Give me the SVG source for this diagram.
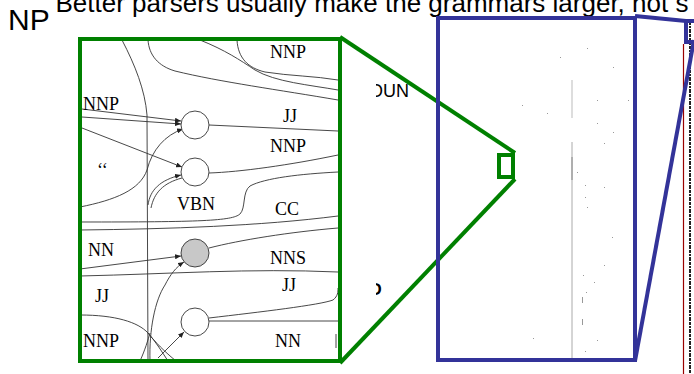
<svg xmlns="http://www.w3.org/2000/svg" width="694" height="374" viewBox="0 0 694 374">
<style>
.sans{font-family:"Liberation Sans",Arial,sans-serif;fill:#000}
.lab{font-family:"Liberation Serif","Times New Roman",serif;font-size:18px;fill:#000}
.ln{fill:none;stroke:#333;stroke-width:0.9}
.node{fill:#fff;stroke:#333;stroke-width:0.9}
.gz{fill:none;stroke:#008000;stroke-width:4}
.bz{fill:none;stroke:#333399;stroke-width:4}
</style>
<defs>
<marker id="ah" markerUnits="userSpaceOnUse" markerWidth="6" markerHeight="5" refX="6" refY="2.5" orient="auto">
<path d="M0,0 L6,2.5 L0,5 z" fill="#222"/>
</marker>
<clipPath id="gclip"><rect x="82" y="41" width="256" height="318"/></clipPath>
<clipPath id="fragclip"><rect x="376" y="0" width="318" height="374"/></clipPath>
</defs>
<rect width="694" height="374" fill="#fff"/>

<g id="title">
<text class="sans" x="55.5" y="12" font-size="26">Better parsers usually make the grammars larger, not s</text>
<text class="sans" x="8" y="30" font-size="30">NP</text>
<g clip-path="url(#fragclip)">
<text class="sans" x="369" y="96.5" font-size="18">OUN</text>
<text class="sans" x="368.5" y="295" font-size="17" font-weight="bold">O</text>
</g>
</g>

<g id="lattice" clip-path="url(#gclip)">
<g id="connectors">
<path class="ln" d="M122,40 C135,65 145,90 147,115 L148,361"/>
<path class="ln" d="M148,40 C149,55 158,66 175,71 C220,82 280,90 338,100"/>
<path class="ln" d="M200,40 C225,50 240,60 255,70 C275,82 310,85 338,90"/>
<path class="ln" d="M237,40 C238,58 248,68 265,72 C290,76 315,76 338,80"/>
<path class="ln" d="M82,109 L181,121" marker-end="url(#ah)"/>
<path class="ln" d="M82,117 L181,124" marker-end="url(#ah)"/>
<path class="ln" d="M82,128 L182,167" marker-end="url(#ah)"/>
<path class="ln" d="M80,207 C115,200 140,190 147,170 C152,150 165,135 183,129" marker-end="url(#ah)"/>
<path class="ln" d="M148,205 C150,190 160,180 181,175" marker-end="url(#ah)"/>
<path class="ln" d="M151,208 C154,193 163,183 182,178"/>
<path class="ln" d="M209,125 L338,131"/>
<path class="ln" d="M209,173 C240,172 290,165 338,155"/>
<path class="ln" d="M338,172 C300,174 265,178 250,186 C242,192 246,208 240,214 C232,221 200,222 80,222"/>
<path class="ln" d="M80,230 C170,229 260,226 338,216"/>
<path class="ln" d="M80,269 L181,256" marker-end="url(#ah)"/>
<path class="ln" d="M80,276 C170,274 250,268 338,272"/>
<path class="ln" d="M209,248 C240,240 290,232 338,228"/>
<path class="ln" d="M150,361 C149,330 155,300 165,285 C170,275 176,267 184,262" marker-end="url(#ah)"/>
<path class="ln" d="M158,358 L184,332" marker-end="url(#ah)"/>
<path class="ln" d="M209,321 L338,321"/>
<path class="ln" d="M209,318 C260,312 320,305 333,300 C338,296 338,292 338,288"/>
<path class="ln" d="M80,315 C115,315 138,322 148,333 C156,342 162,352 168,361"/>
<path class="ln" d="M140,361 C145,350 148,340 150,333"/>
<path class="ln" d="M176,361 C165,352 155,342 148,333"/>
<path class="ln" d="M336,334 L336,348"/>
</g>
<circle id="n1" class="node" cx="195" cy="125" r="14"/>
<circle id="n2" class="node" cx="195" cy="172" r="14"/>
<circle id="n3" class="node" cx="195" cy="253" r="14" fill="#c8c8c8" style="fill:#c8c8c8"/>
<circle id="n4" class="node" cx="195" cy="322" r="14"/>
<g id="labels">
<text class="lab" x="270" y="58">NNP</text>
<text class="lab" x="83" y="110">NNP</text>
<text class="lab" x="283" y="122">JJ</text>
<text class="lab" x="270" y="152">NNP</text>
<text class="lab" x="97" y="176">‘‘</text>
<text class="lab" x="177" y="210">VBN</text>
<text class="lab" x="275" y="215">CC</text>
<text class="lab" x="88" y="256">NN</text>
<text class="lab" x="270" y="264">NNS</text>
<text class="lab" x="282" y="291">JJ</text>
<text class="lab" x="95" y="302">JJ</text>
<text class="lab" x="83" y="347">NNP</text>
<text class="lab" x="275" y="347">NN</text>
</g>
</g>

<g id="blue-panel">
<line x1="572" y1="80" x2="572" y2="118" stroke="#bbb" stroke-width="1"/>
<line x1="572" y1="142" x2="572" y2="360" stroke="#aaa" stroke-width="1"/>
<line x1="572" y1="157" x2="572" y2="180" stroke="#888" stroke-width="1"/>
<g fill="#999">
<rect x="587" y="48" width="1" height="1"/><rect x="560" y="57" width="1" height="1"/>
<rect x="613" y="67" width="1" height="1"/><rect x="597" y="100" width="1" height="1"/>
<rect x="628" y="100" width="1" height="1"/><rect x="522" y="105" width="1" height="1"/>
<rect x="547" y="113" width="1" height="1"/><rect x="597" y="123" width="1" height="1"/>
<rect x="613" y="132" width="1" height="1"/><rect x="604" y="143" width="1" height="1"/>
<rect x="577" y="172" width="1" height="1"/><rect x="585" y="185" width="1" height="1"/>
<rect x="604" y="187" width="1" height="1"/><rect x="585" y="197" width="1" height="1"/>
<rect x="587" y="207" width="1" height="1"/><rect x="612" y="237" width="1" height="1"/>
<rect x="604" y="265" width="1" height="1"/><rect x="583" y="275" width="1" height="1"/>
<rect x="594" y="282" width="1" height="1"/><rect x="586" y="292" width="1" height="1"/>
<rect x="597" y="340" width="1" height="1"/><rect x="585" y="351" width="1" height="1"/>
<rect x="533" y="338" width="1" height="1"/>
<rect x="582" y="297" width="1" height="6"/><rect x="582" y="319" width="1" height="6"/>
</g>
<line x1="683.5" y1="44" x2="683.5" y2="374" stroke="#990000" stroke-width="1.2"/>
<line x1="690" y1="22" x2="690" y2="374" stroke="#222" stroke-width="2" stroke-dasharray="3 1 2 1 4 1"/>
</g>

<g id="callouts">
<rect id="green-zoom" class="gz" x="80" y="39" width="260" height="322"/>
<line class="gz" x1="340" y1="37" x2="515" y2="153"/>
<line class="gz" x1="340" y1="363" x2="515" y2="179"/>
<rect id="green-src" class="gz" x="499" y="155" width="14" height="22"/>
<rect id="blue-zoom" class="bz" x="438" y="18" width="197" height="342"/>
<line class="bz" x1="635" y1="16" x2="686" y2="21"/>
<line class="bz" x1="635" y1="361" x2="694" y2="40"/>
<rect id="blue-src" class="bz" x="686" y="21" width="20" height="21"/>
</g>
</svg>
